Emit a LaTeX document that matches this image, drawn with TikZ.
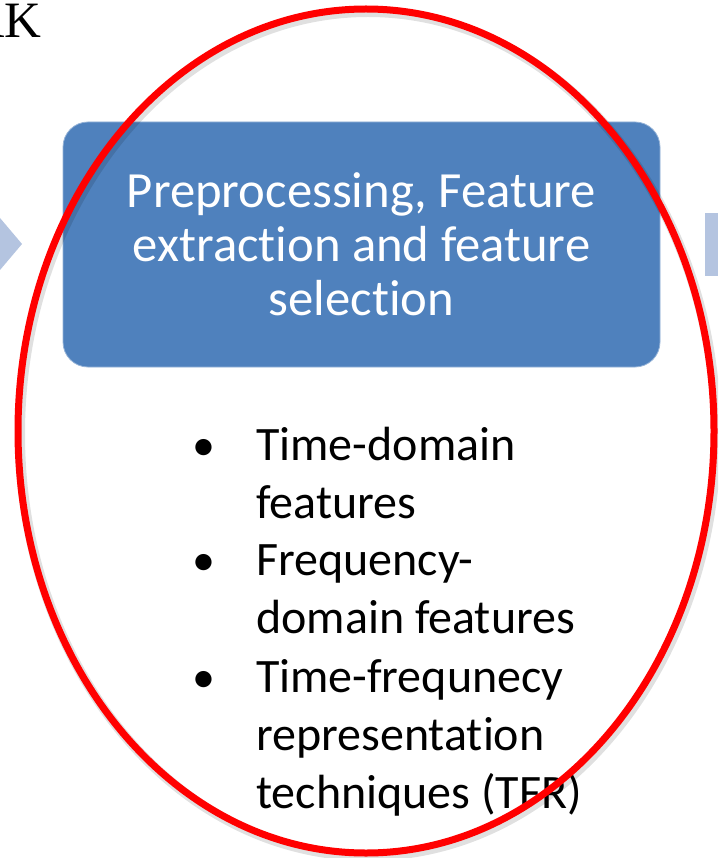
\documentclass[tikz,border=0pt]{standalone}
\usepackage{fontspec}
\setmainfont{Carlito}[Ligatures={NoCommon,NoContextual}]
\newfontfamily\headserif{Liberation Serif}
\usetikzlibrary{shapes.geometric}
\definecolor{boxblue}{HTML}{4F81BD}
\definecolor{arrowblue}{HTML}{B4C4E0}
\definecolor{ringred}{HTML}{FF0000}
% left-aligned stack of lines whose baseline is that of the first line
\newcommand{\linestack}[1]{\begin{tabular}[t]{@{}l@{}}#1\end{tabular}}
\begin{document}
\begin{tikzpicture}[x=1pt,y=-1pt,
  procbox/.style={fill=boxblue, draw=boxblue!60!white, line width=0.8pt,
    rounded corners=25pt, minimum width=597pt, minimum height=245pt,
    inner sep=0pt, text=white, align=center,
    font=\fontsize{50.7}{54}\selectfont},
  itemtext/.style={anchor=base west, inner sep=0pt,
    font=\fontsize{48}{58}\selectfont},
  bulletmark/.style={anchor=base, inner sep=0pt,
    font=\fontsize{46}{58}\selectfont},
  ring/.style={ellipse, draw=ringred, line width=7pt, inner sep=0pt,
    minimum width=696pt, minimum height=844pt},
  ringshade/.style={ellipse, draw=black, draw opacity=0.12, line width=10pt,
    inner sep=0pt, minimum width=696pt, minimum height=844pt}]
\useasboundingbox (0,0) rectangle (718,858);
\clip (0,0) rectangle (718,858);
\fill[white] (0,0) rectangle (718,858);

% slide heading, cut by the left edge
\node[anchor=base west, inner sep=0pt,
  font=\headserif\fontsize{51}{51}\selectfont] (heading) at (-30,38) {RK};

% neighbouring process arrows
\fill[arrowblue] (0,218) -- (22,244) -- (0,270) -- cycle;
\fill[arrowblue] (705,213) rectangle (718,276);

% process step
\node[procbox] (proc) at (361.5,244.5)
  {Preprocessing, Feature\\extraction and feature\\selection};

% bullet list
\node[bulletmark] (b1) at (204,460) {•};
\node[itemtext] (i1) at (256,460) {\linestack{Time-domain\\features}};
\node[bulletmark] (b2) at (204,575) {•};
\node[itemtext] (i2) at (256,575) {\linestack{Frequency-\\domain features}};
\node[bulletmark] (b3) at (204,692) {•};
\node[itemtext] (i3) at (256,692)
  {\linestack{Time-frequnecy\\representation\\techniques (TFR)}};

% red highlight ring with a soft shadow
\node[ringshade] (ringshadow) at (368,434) {};
\node[ring] (ring) at (366,431) {};
\end{tikzpicture}
\end{document}
